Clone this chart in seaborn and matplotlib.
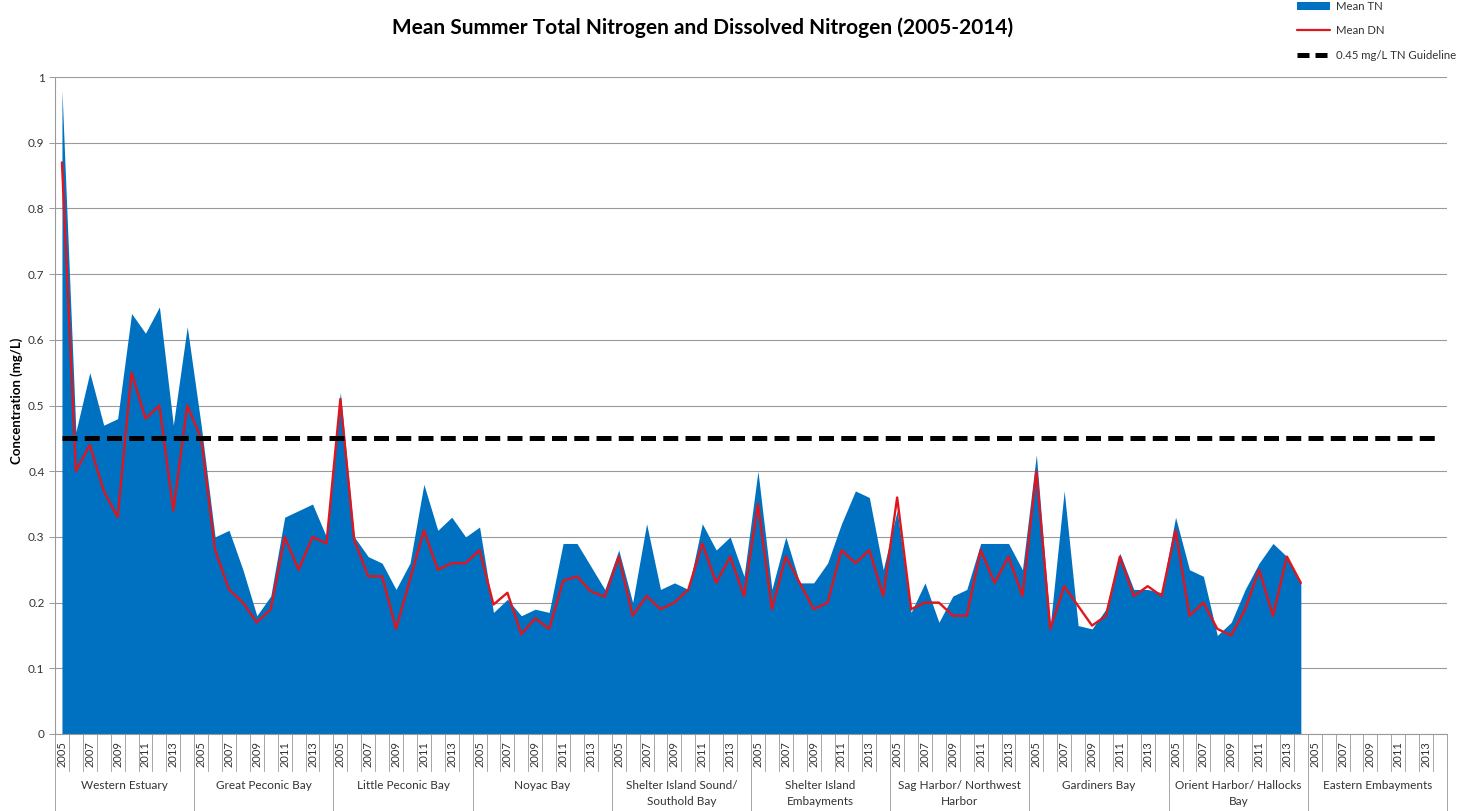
import numpy as np
import pandas as pd
import matplotlib
matplotlib.use("Agg")
import matplotlib.pyplot as plt
from matplotlib.patches import Patch
from matplotlib.lines import Line2D
import seaborn as sns

# ---------------- data ----------------
groups = ["Western Estuary", "Great Peconic Bay", "Little Peconic Bay", "Noyac Bay",
          "Shelter Island Sound/\nSouthold Bay", "Shelter Island\nEmbayments",
          "Sag Harbor/ Northwest\nHarbor", "Gardiners Bay", "Orient Harbor/ Hallocks\nBay",
          "Eastern Embayments"]
years = list(range(2005, 2015))

tn_western = [0.98, 0.46, 0.55, 0.47, 0.48, 0.64, 0.61, 0.65, 0.47, 0.62]
tn_great = [0.47, 0.30, 0.31, 0.25, 0.18, 0.21, 0.33, 0.34, 0.35, 0.30]
tn_little = [0.52, 0.30, 0.27, 0.26, 0.22, 0.26, 0.38, 0.31, 0.33, 0.30]
tn_noyac = [0.315, 0.185, 0.205, 0.18, 0.19, 0.185, 0.29, 0.29, 0.255, 0.22]
tn_sis = [0.28, 0.20, 0.32, 0.22, 0.23, 0.22, 0.32, 0.28, 0.30, 0.24]
tn_sie = [0.40, 0.22, 0.30, 0.23, 0.23, 0.26, 0.32, 0.37, 0.36, 0.25]
tn_sag = [0.34, 0.185, 0.23, 0.17, 0.21, 0.22, 0.29, 0.29, 0.29, 0.25]
tn_gard = [0.425, 0.165, 0.37, 0.165, 0.16, 0.19, 0.275, 0.22, 0.22, 0.215]
tn_orient = [0.33, 0.25, 0.24, 0.15, 0.17, 0.22, 0.26, 0.29, 0.27, 0.23]
tn_eastern = [np.nan] * 10

dn_western = [0.87, 0.40, 0.44, 0.37, 0.33, 0.55, 0.48, 0.50, 0.34, 0.50]
dn_great = [0.45, 0.28, 0.22, 0.20, 0.17, 0.19, 0.30, 0.25, 0.30, 0.29]
dn_little = [0.51, 0.295, 0.24, 0.24, 0.16, 0.235, 0.31, 0.25, 0.26, 0.26]
dn_noyac = [0.28, 0.197, 0.215, 0.152, 0.176, 0.16, 0.233, 0.24, 0.217, 0.209]
dn_sis = [0.27, 0.18, 0.21, 0.19, 0.20, 0.22, 0.29, 0.23, 0.27, 0.21]
dn_sie = [0.35, 0.19, 0.27, 0.23, 0.19, 0.20, 0.28, 0.26, 0.28, 0.21]
dn_sag = [0.36, 0.19, 0.20, 0.20, 0.18, 0.18, 0.28, 0.23, 0.27, 0.21]
dn_gard = [0.40, 0.16, 0.225, 0.195, 0.165, 0.18, 0.27, 0.21, 0.225, 0.21]
dn_orient = [0.31, 0.18, 0.20, 0.16, 0.15, 0.19, 0.25, 0.18, 0.27, 0.23]
dn_eastern = [np.nan] * 10

guideline_value = 0.45

tn_all = (tn_western + tn_great + tn_little + tn_noyac + tn_sis + tn_sie + tn_sag
          + tn_gard + tn_orient + tn_eastern)
dn_all = (dn_western + dn_great + dn_little + dn_noyac + dn_sis + dn_sie + dn_sag
          + dn_gard + dn_orient + dn_eastern)

n_years = len(years)
df = pd.DataFrame({
    "pos": np.arange(len(groups) * n_years),
    "group": np.repeat(groups, n_years),
    "year": years * len(groups),
    "TN": tn_all,
    "DN": dn_all,
})
df["guide"] = guideline_value

# ---------------- style ----------------
sns.set_theme(style="white")
plt.rcParams["font.family"] = ["Lato", "DejaVu Sans"]

BLUE = "#0070C0"
RED = "#E0161E"
GRID = "#9a9a9a"
TXT = "#333333"

W, H = 1474, 811
fig = plt.figure(figsize=(W / 100, H / 100), dpi=100)
ax = fig.add_axes([55 / W, 77 / H, 1392 / W, 657 / H])

d = df.dropna(subset=["TN"])
ax.fill_between(d["pos"], 0, d["TN"], color=BLUE, linewidth=0, zorder=2)
sns.lineplot(data=d, x="pos", y="DN", color=RED, linewidth=1.7, ax=ax, zorder=3)
sns.lineplot(data=df, x="pos", y="guide", color="black", linewidth=3.6, ax=ax, zorder=4)
ax.lines[-1].set_dashes((3.0, 1.45))

ax.set_xlim(-0.5, len(df) - 0.5)
ax.set_ylim(0, 1)
yt = np.round(np.arange(0, 1.01, 0.1), 1)
ax.set_yticks(yt)
ax.set_yticklabels(["0" if v == 0 else ("1" if v == 1 else f"{v:g}") for v in yt])
ax.yaxis.grid(True, color=GRID, linewidth=0.8, zorder=0)
ax.set_axisbelow(True)
ax.tick_params(axis="y", which="major", left=True, length=4.5, width=0.7, color=GRID,
               pad=3, labelsize=8.5, labelcolor=TXT, direction="out")

ax.set_xticks(df["pos"])
ax.set_xticklabels([str(y) if (y - years[0]) % 2 == 0 else "" for y in df["year"]],
                   rotation=90, fontsize=8, color=TXT)
ax.tick_params(axis="x", length=0, pad=5)

for s in ["top", "right"]:
    ax.spines[s].set_visible(False)
for s in ["left", "bottom"]:
    ax.spines[s].set_color(GRID)
    ax.spines[s].set_linewidth(0.8)

ax.set_xlabel("")
ax.set_ylabel("")

# category separators (year row) and group separators
trans = ax.get_xaxis_transform()
for b in np.arange(len(df) + 1) - 0.5:
    ax.plot([b, b], [0, -37 / 657], color="#a6a6a6", lw=0.7, transform=trans, clip_on=False)
for k in range(len(groups) + 1):
    b = k * n_years - 0.5
    ax.plot([b, b], [0, -80 / 657], color="#a6a6a6", lw=0.7, transform=trans, clip_on=False)
for k, g in enumerate(groups):
    c = k * n_years + (n_years - 1) / 2
    ax.text(c, -46 / 657, g, transform=trans, ha="center", va="top", fontsize=8.5,
            color=TXT, linespacing=1.55)

# y label
fig.text(17 / W, 1 - 401 / H, "Concentration (mg/L)", rotation=90, ha="center", va="center",
         fontsize=9.5, fontweight="bold", color="black",
         family=["Liberation Sans Narrow", "Lato", "DejaVu Sans"])

# title
fig.text(703 / W, 1 - 28 / H, "Mean Summer Total Nitrogen and Dissolved Nitrogen (2005-2014)",
         ha="center", va="center", fontsize=15, fontweight="bold", color="black")

# legend
handles = [Patch(facecolor=BLUE, edgecolor="none"),
           Line2D([0], [0], color=RED, lw=1.6),
           Line2D([0], [0], color="black", lw=3.6, dashes=(2.4, 1.2))]
labels = ["Mean TN", "Mean DN", "0.45 mg/L TN Guideline"]
fig.legend(handles, labels, loc="upper left", bbox_to_anchor=(1297 / W, 1 - 0.5 / H),
           frameon=False, fontsize=8.2, handlelength=2.9, handletextpad=0.55,
           labelspacing=1.2, borderpad=0, borderaxespad=0, labelcolor=TXT)

fig.savefig("out.png", dpi=100)
